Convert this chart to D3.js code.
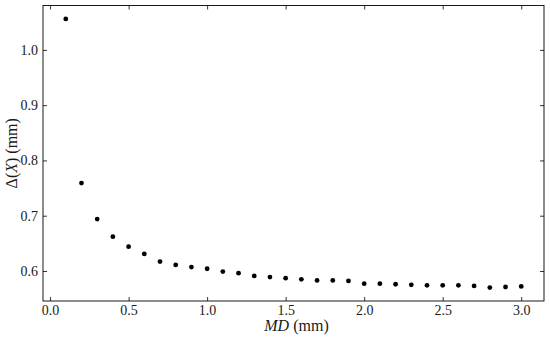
<!DOCTYPE html>
<html>
<head>
  <meta charset="UTF-8">
  <script src="https://d3js.org/d3.v7.min.js"></script>
  <style>
    body { margin: 0; background: #fff; }
    svg { display: block; }
  </style>
</head>
<body>
  <script>
    // MD values (mm)
    const md = [0.1, 0.2, 0.3, 0.4, 0.5, 0.6, 0.7, 0.8, 0.9, 1.0,
                1.1, 1.2, 1.3, 1.4, 1.5, 1.6, 1.7, 1.8, 1.9, 2.0,
                2.1, 2.2, 2.3, 2.4, 2.5, 2.6, 2.7, 2.8, 2.9, 3.0];
    // Delta(X) values (mm)
    const delta = [1.056, 0.759, 0.694, 0.662, 0.644, 0.631, 0.617, 0.611, 0.607, 0.604,
                   0.599, 0.596, 0.591, 0.589, 0.587, 0.585, 0.583, 0.583, 0.582, 0.577,
                   0.577, 0.576, 0.575, 0.574, 0.574, 0.574, 0.573, 0.570, 0.571, 0.572];
    const xTicks = [0.0, 0.5, 1.0, 1.5, 2.0, 2.5, 3.0];
    const yTicks = [0.6, 0.7, 0.8, 0.9, 1.0];

    const serif = "'Liberation Serif'";
    const width = 550, height = 340;
    const margin = { top: 5.5, right: 6, bottom: 39, left: 43 };
    const innerW = width - margin.left - margin.right;
    const innerH = height - margin.top - margin.bottom;

    const svg = d3.select('body').append('svg')
      .attr('width', width).attr('height', height);
    const g = svg.append('g')
      .attr('transform', `translate(${margin.left},${margin.top})`);

    // matplotlib style 5% padding around the data
    const xr = d3.extent(md), yr = d3.extent(delta);
    const xPad = (xr[1] - xr[0]) * 0.05, yPad = (yr[1] - yr[0]) * 0.05;
    const x = d3.scaleLinear().domain([xr[0] - xPad, xr[1] + xPad]).range([0, innerW]);
    const y = d3.scaleLinear().domain([yr[0] - yPad, yr[1] + yPad]).range([innerH, 0]);

    const fmt = d3.format('.1f');
    const styleAxis = sel => {
      sel.attr('font-family', null).attr('font-size', null);
      sel.select('.domain').remove();
      sel.selectAll('line').attr('stroke', '#000').attr('stroke-width', 0.8);
      sel.selectAll('text')
        .style('font-family', serif)
        .attr('font-size', 14)
        .attr('fill', '#1a1a1a');
    };

    // inward ticks on all four sides
    g.append('g').attr('transform', `translate(0,${innerH})`)
      .call(d3.axisBottom(x).tickValues(xTicks).tickFormat(fmt).tickSizeInner(-4).tickPadding(4))
      .call(styleAxis);
    g.append('g')
      .call(d3.axisTop(x).tickValues(xTicks).tickFormat('').tickSizeInner(-4))
      .call(styleAxis);
    g.append('g')
      .call(d3.axisLeft(y).tickValues(yTicks).tickFormat(fmt).tickSizeInner(-4).tickPadding(5))
      .call(styleAxis);
    g.append('g').attr('transform', `translate(${innerW},0)`)
      .call(d3.axisRight(y).tickValues(yTicks).tickFormat('').tickSizeInner(-4))
      .call(styleAxis);

    g.append('rect')
      .attr('width', innerW).attr('height', innerH)
      .attr('fill', 'none').attr('stroke', '#000').attr('stroke-width', 0.9);

    g.selectAll('circle.pt')
      .data(md.map((m, i) => [m, delta[i]]))
      .enter().append('circle')
      .attr('class', 'pt')
      .attr('cx', d => x(d[0]))
      .attr('cy', d => y(d[1]))
      .attr('r', 2.4)
      .attr('fill', '#000');

    // axis titles
    const xl = svg.append('text')
      .attr('x', margin.left + innerW / 2 + 3)
      .attr('y', 331)
      .attr('text-anchor', 'middle')
      .style('font-family', serif)
      .attr('font-size', 16)
      .attr('fill', '#1a1a1a');
    xl.append('tspan').style('font-style', 'italic').text('MD');
    xl.append('tspan').text(' (mm)');

    const yl = svg.append('text')
      .attr('transform', `translate(17,${margin.top + innerH / 2}) rotate(-90)`)
      .attr('text-anchor', 'middle')
      .style('font-family', serif)
      .attr('font-size', 16)
      .attr('fill', '#1a1a1a');
    yl.append('tspan').text('Δ(');
    yl.append('tspan').style('font-style', 'italic').text('X');
    yl.append('tspan').text(') (mm)');
  </script>
</body>
</html>
